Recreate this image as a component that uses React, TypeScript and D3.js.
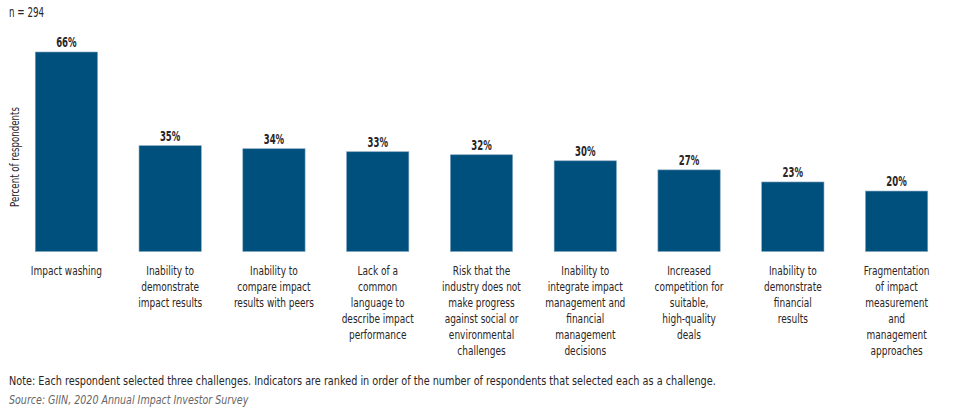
import React from "react";
import * as d3 from "d3";

const categories: string[][] = [
  ["Impact washing"],
  ["Inability to", "demonstrate", "impact results"],
  ["Inability to", "compare impact", "results with peers"],
  ["Lack of a", "common", "language to", "describe impact", "performance"],
  ["Risk that the", "industry does not", "make progress", "against social or", "environmental", "challenges"],
  ["Inability to", "integrate impact", "management and", "financial", "management", "decisions"],
  ["Increased", "competition for", "suitable,", "high-quality", "deals"],
  ["Inability to", "demonstrate", "financial", "results"],
  ["Fragmentation", "of impact", "measurement", "and", "management", "approaches"],
];
const values: number[] = [66, 35, 34, 33, 32, 30, 27, 23, 20];
const sampleLabel = "n = 294";
const yAxisTitle = "Percent of respondents";
const noteText =
  "Note: Each respondent selected three challenges. Indicators are ranked in order of the number of respondents that selected each as a challenge.";
const sourceText = "Source: GIIN, 2020 Annual Impact Investor Survey";

const W = 964;
const H = 419;
const FONT = "'DejaVu Sans Condensed', 'DejaVu Sans', sans-serif";
const BAR = "#00507d";
const TEXT = "#2a2526";

type TxtProps = {
  x: number;
  y: number;
  sx: number;
  anchor?: "start" | "middle" | "end";
  size: number;
  weight?: string;
  italic?: boolean;
  fill?: string;
  rotate?: number;
  children: React.ReactNode;
};

function Txt({ x, y, sx, anchor = "start", size, weight, italic, fill = TEXT, rotate, children }: TxtProps) {
  const tf = `translate(${x},${y})${rotate ? ` rotate(${rotate})` : ""} scale(${sx},1)`;
  return (
    <text
      transform={tf}
      textAnchor={anchor}
      fontSize={size}
      fontWeight={weight}
      fontStyle={italic ? "italic" : undefined}
      fill={fill}
    >
      {children}
    </text>
  );
}

export default function App() {
  const idx = values.map((_, i) => String(i));
  const x = d3.scaleBand<string>().domain(idx).range([14.5, 948.5]).paddingInner(0.4).paddingOuter(0.2);
  const baseY = 251.5;
  const y = d3.scaleLinear().domain([0, 66]).range([baseY, 52]);

  return (
    <svg
      width={W}
      height={H}
      style={{ position: "absolute", left: 0, top: 0, background: "#fff" }}
      fontFamily={FONT}
    >
      <Txt x={9} y={17} sx={0.72} size={13.5}>
        {sampleLabel}
      </Txt>
      <Txt x={19} y={157} sx={0.74} size={13} anchor="middle" rotate={-90}>
        {yAxisTitle}
      </Txt>
      {values.map((v, i) => {
        const bx = x(String(i))!;
        const bw = x.bandwidth();
        const cx = bx + bw / 2;
        return (
          <g key={i}>
            <rect
              x={bx}
              y={y(v)}
              width={bw}
              height={baseY - y(v)}
              fill={BAR}
              stroke="#7fa3bd"
              strokeWidth={0.6}
            />
            <Txt x={cx} y={y(v) - 5} sx={0.68} anchor="middle" size={14} weight="bold">
              {v}%
            </Txt>
            {categories[i].map((line, j) => (
              <Txt key={j} x={cx} y={274.5 + j * 16} sx={0.77} anchor="middle" size={13}>
                {line}
              </Txt>
            ))}
          </g>
        );
      })}
      <Txt x={9} y={385} sx={0.83} size={13}>
        {noteText}
      </Txt>
      <Txt x={9} y={404} sx={0.86} size={12.3} italic fill="#666">
        {sourceText}
      </Txt>
    </svg>
  );
}
